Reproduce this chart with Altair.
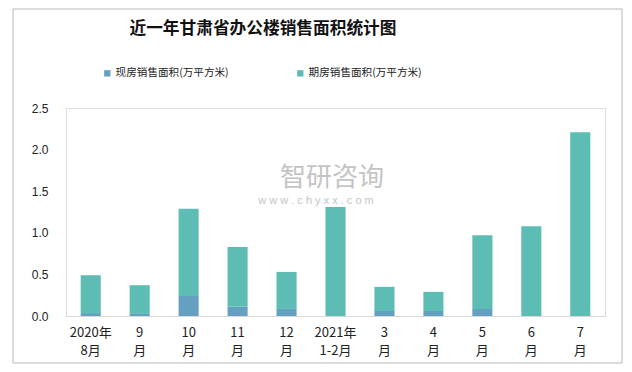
import altair as alt
import pandas as pd

categories = ["2020年|8月", "9|月", "10|月", "11|月", "12|月", "2021年|1-2月",
              "3|月", "4|月", "5|月", "6|月", "7|月"]
current = [0.035, 0.025, 0.24, 0.11, 0.085, 0.0, 0.06, 0.06, 0.085, 0.0, 0.0]
forward = [0.455, 0.345, 1.05, 0.72, 0.445, 1.31, 0.29, 0.23, 0.885, 1.08, 2.21]
series = ["现房销售面积(万平方米)", "期房销售面积(万平方米)"]
colors = ["#64A0C2", "#5DBCB4"]
title_text = "近一年甘肃省办公楼销售面积统计图"

rows = []
for c, a, b in zip(categories, current, forward):
    rows.append({"cat": c, "series": series[0], "value": a, "idx": 0})
    rows.append({"cat": c, "series": series[1], "value": b, "idx": 1})
df = pd.DataFrame(rows)

W, H = 539, 208
bars = alt.Chart(df).mark_bar().encode(
    x=alt.X("cat:N", sort=categories, title=None,
            scale=alt.Scale(paddingInner=0.59, paddingOuter=0.3),
            axis=alt.Axis(labelAngle=0, ticks=False, domainColor="#d9d9d9",
                          labelExpr="split(datum.label, '|')",
                          labelFont="Noto Sans CJK SC", labelFontSize=13,
                          labelLineHeight=18, labelColor="#222",
                          labelPadding=10, labelBaseline="top")),
    y=alt.Y("value:Q", stack="zero", title=None,
            scale=alt.Scale(domain=[0, 2.5]),
            axis=alt.Axis(values=[0, 0.5, 1.0, 1.5, 2.0, 2.5], format=".1f",
                          grid=False, domain=False, ticks=False,
                          labelPadding=18, labelFont="Liberation Sans",
                          labelFontSize=12, labelColor="#222")),
    color=alt.Color("series:N", scale=alt.Scale(domain=series, range=colors),
                    legend=alt.Legend(title=None, orient="none", direction="horizontal",
                                      legendX=36, legendY=-40, symbolType="square",
                                      symbolSize=40, symbolStrokeWidth=0,
                                      labelFont="Noto Sans CJK SC", labelFontSize=10.6,
                                      labelColor="#222", labelOffset=3,
                                      columnPadding=66)),
    order=alt.Order("idx:Q", sort="ascending"),
)

deco = pd.DataFrame({"a": [0]})
border = alt.Chart(deco).mark_rect(fill=None, stroke="#b8b8b8", strokeWidth=1).encode(
    x=alt.value(-53), x2=alt.value(556), y=alt.value(-99), y2=alt.value(255))
title = alt.Chart(deco).mark_text(text=title_text, font="Noto Sans CJK SC", fontSize=16.7,
                                  fontWeight="bold", color="#111", align="center",
                                  baseline="middle").encode(
    x=alt.value(197), y=alt.value(-79))
wm1 = alt.Chart(deco).mark_text(text="智研咨询", font="Noto Sans CJK SC", fontSize=26,
                                color="#c4c4c4", align="center", baseline="middle").encode(
    x=alt.value(266), y=alt.value(70))
wm2 = alt.Chart(deco).mark_text(text="w w w . c h y x x . c o m", font="Liberation Sans",
                                fontSize=11, color="#c4c4c4", align="center",
                                baseline="middle").encode(
    x=alt.value(250), y=alt.value(93))

chart = alt.layer(border, title, wm1, wm2, bars).properties(
    width=W, height=H,
    autosize=alt.AutoSizeParams(type="none"),
    padding={"left": 58, "top": 100, "right": 19, "bottom": 48},
).configure_view(stroke=None).configure(background="white")

chart.save("out.html", embed_options={"renderer": "svg", "actions": False})
